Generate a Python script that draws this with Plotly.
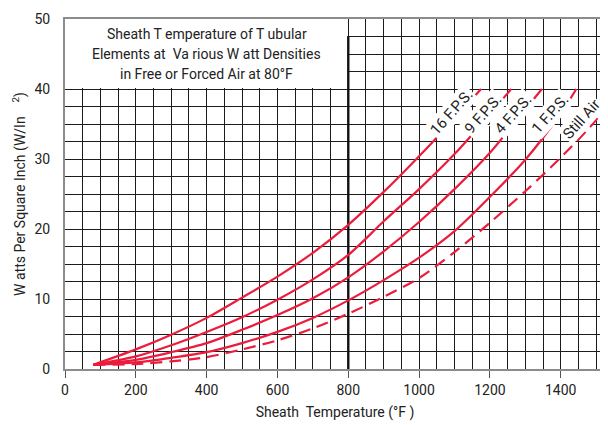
import plotly.graph_objects as go

# ---- data ----
x_16fps = [80, 200, 300, 400, 500, 600, 700, 800, 900, 1000, 1100, 1175]
y_16fps = [0.6, 2.8, 4.9, 7.3, 10.2, 13.2, 16.6, 20.6, 25.3, 30.4, 35.8, 40]

x_9fps = [80, 200, 300, 400, 500, 600, 700, 800, 900, 1000, 1100, 1200, 1260]
y_9fps = [0.6, 1.8, 3.4, 5.3, 7.4, 9.9, 12.8, 16.3, 21.1, 25.7, 30.7, 36.4, 40]

x_4fps = [80, 200, 300, 400, 500, 600, 700, 800, 900, 1000, 1100, 1200, 1300, 1347]
y_4fps = [0.6, 1.3, 2.4, 3.7, 5.6, 7.7, 10.1, 13.1, 16.8, 21.0, 25.7, 30.9, 37.1, 40]

x_1fps = [80, 200, 300, 400, 500, 600, 700, 800, 900, 1000, 1100, 1200, 1300, 1400, 1444]
y_1fps = [0.6, 0.95, 1.6, 2.4, 3.7, 5.3, 7.3, 9.8, 12.7, 15.9, 19.7, 24.6, 29.9, 36.5, 40]

x_still = [80, 200, 300, 400, 500, 600, 700, 800, 900, 1000, 1100, 1200, 1300, 1400, 1500, 1530]
y_still = [0.6, 0.7, 1.1, 1.7, 2.8, 4.1, 5.8, 7.9, 10.3, 13.0, 16.7, 20.9, 25.4, 30.2, 35.6, 38.0]

curve_labels = ["16 F.P.S.", "9 F.P.S.", "4 F.P.S.", "1 F.P.S.", "Still Air"]
label_x = [1092, 1181, 1266, 1370, 1459]
label_y = [36.7, 36.4, 36.4, 36.4, 35.7]

title_lines = ["Sheath T emperature of T ubular",
               "Elements at  Va rious W att Densities",
               "in Free or Forced Air at 80°F"]
title_y = [47.8, 45.0, 42.1]

x_title = "Sheath  Temperature (°F )"
y_title = "W atts Per Square Inch (W/In    <sup>2</sup>)"

RED = "#EC1C3C"
GRID = "#1c1c1c"
FONT = "Roboto, Liberation Sans, Arial, sans-serif"

series = [(x_16fps, y_16fps, "solid"), (x_9fps, y_9fps, "solid"),
          (x_4fps, y_4fps, "solid"), (x_1fps, y_1fps, "solid"),
          (x_still, y_still, "12px,7px")]

fig = go.Figure()
for (xs, ys, dash), name in zip(series, curve_labels):
    fig.add_trace(go.Scatter(x=xs, y=ys, mode="lines", name=name,
                             line=dict(color=RED, width=2.2, dash=dash,
                                       shape="spline", smoothing=0.8),
                             hoverinfo="skip", cliponaxis=True))

# white title box in upper-left (covers grid)
fig.add_shape(type="rect", xref="x", yref="y", x0=0, x1=797, y0=40.15, y1=50,
              fillcolor="white", line=dict(width=0), layer="between")
# heavy line at 800 F
fig.add_shape(type="line", xref="x", yref="y", x0=800, x1=800, y0=0, y1=47.5,
              line=dict(color="#111111", width=2.4), layer="between")

for t, ty in zip(title_lines, title_y):
    fig.add_annotation(x=400, y=ty, xref="x", yref="y", text=t, showarrow=False,
                       font=dict(family=FONT, size=14, color="#222222"))

for t, lx, ly in zip(curve_labels, label_x, label_y):
    fig.add_annotation(x=lx, y=ly, xref="x", yref="y", text=t, showarrow=False,
                       textangle=-48, bgcolor="white", borderpad=1,
                       font=dict(family=FONT, size=15, color="#222222"))

# page body has an 8px default margin, so the figure is sized to fit 608x425
fig.update_layout(
    width=600, height=417,
    margin=dict(l=57, r=3, t=7, b=56),
    plot_bgcolor="white", paper_bgcolor="white",
    showlegend=False,
    font=dict(family=FONT, size=14, color="#222222"),
)
fig.update_xaxes(
    range=[0, 1525], dtick=200, tick0=0,
    showgrid=True, gridcolor=GRID, gridwidth=1.2,
    minor=dict(dtick=50, showgrid=True, gridcolor=GRID, gridwidth=1.2),
    showline=True, linecolor="#8c8c8c", linewidth=2, mirror=True,
    ticks="outside", ticklen=7, tickcolor="#555555", tickwidth=1,
    tickfont=dict(family=FONT, size=14, color="#222222"),
    ticklabeloverflow="allow",
    title=dict(text=x_title, standoff=10, font=dict(family=FONT, size=14, color="#222222")),
    zeroline=False,
)
fig.update_yaxes(
    range=[0, 50], dtick=10, tick0=0,
    showgrid=True, gridcolor=GRID, gridwidth=1.2,
    minor=dict(dtick=2.5, showgrid=True, gridcolor=GRID, gridwidth=1.2),
    showline=True, linecolor="#8c8c8c", linewidth=2,
    ticks="", ticklabelstandoff=10,
    tickfont=dict(family=FONT, size=14, color="#222222"),
    ticklabeloverflow="allow",
    title=dict(text=y_title, standoff=6, font=dict(family=FONT, size=14, color="#222222")),
    zeroline=False,
)

fig.write_html("out.html")
